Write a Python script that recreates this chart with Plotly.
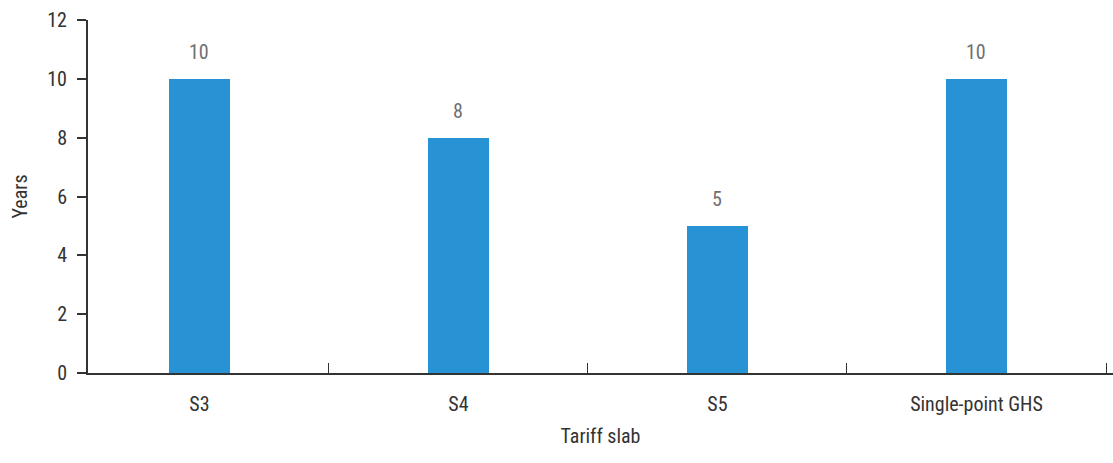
import plotly.graph_objects as go

# Payback period by tariff slab
categories = ["S3", "S4", "S5", "Single-point GHS"]
years = [10, 8, 5, 10]
y_ticks = [0, 2, 4, 6, 8, 10, 12]

FONT = "Roboto Condensed, DejaVu Sans Condensed, sans-serif"
BAR_COLOR = "#2793d4"
AXIS_COLOR = "#333333"

fig = go.Figure()
fig.add_trace(go.Bar(
    x=categories,
    y=years,
    width=0.235,
    marker=dict(color=BAR_COLOR, line=dict(width=0)),
    showlegend=False,
))

# value labels above each bar
for cat, val in zip(categories, years):
    fig.add_annotation(
        x=cat, y=val, text=str(val), showarrow=False,
        yanchor="bottom", yshift=13,
        font=dict(family=FONT, size=20, color="#707070"),
    )

fig.update_layout(
    width=1113, height=463,
    margin=dict(l=88, r=0, t=20, b=90),
    paper_bgcolor="white", plot_bgcolor="white",
    font=dict(family=FONT, size=20, color=AXIS_COLOR),
    bargap=0,
)
fig.update_xaxes(
    range=[-0.43, 3.527],
    showline=True, linecolor=AXIS_COLOR, linewidth=2,
    tickson="boundaries", ticks="inside", ticklen=10, tickcolor=AXIS_COLOR, tickwidth=1,
    ticklabelstandoff=12,
    showgrid=False, zeroline=False,
    tickfont=dict(family=FONT, size=20, color=AXIS_COLOR),
    title=dict(text="Tariff slab", standoff=14, font=dict(family=FONT, size=20, color=AXIS_COLOR)),
)
fig.update_yaxes(
    range=[0, 12], tickvals=y_ticks,
    showline=True, linecolor=AXIS_COLOR, linewidth=2,
    ticks="outside", ticklen=9, tickcolor=AXIS_COLOR, tickwidth=1.5,
    ticklabelstandoff=6,
    showgrid=False, zeroline=False,
    tickfont=dict(family=FONT, size=20, color=AXIS_COLOR),
    title=dict(text="Years", standoff=14, font=dict(family=FONT, size=20, color=AXIS_COLOR)),
)

fig.write_html("out.html")
